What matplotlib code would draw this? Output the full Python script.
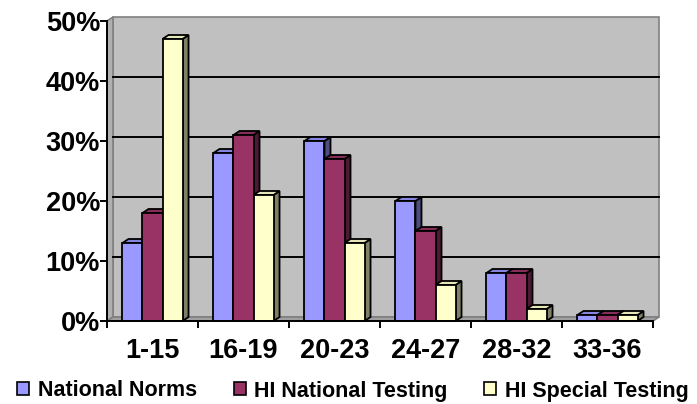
import numpy as np
import matplotlib.pyplot as plt
from matplotlib.patches import Rectangle, Polygon, Patch

plt.rcParams['font.family'] = ['Liberation Sans', 'DejaVu Sans']
plt.rcParams['font.weight'] = 'bold'

categories = ['1-15', '16-19', '20-23', '24-27', '28-32', '33-36']
series_names = ['National Norms', 'HI National Testing', 'HI Special Testing']
national_norms = [13, 28, 30, 20, 8, 1]
hi_national = [18, 31, 27, 15, 8, 1]
hi_special = [47, 21, 13, 6, 2, 1]
y_ticks = [0, 10, 20, 30, 40, 50]

front_colors = ['#9999FF', '#993366', '#FFFFCC']
top_colors = ['#8585E0', '#862D59', '#E6E6B8']
side_colors = ['#4D4D80', '#4D1A33', '#808066']

def draw_bar(ax, x0, w, h, dx, dy, i):
    kw = dict(edgecolor='black', linewidth=1.3, joinstyle='miter', clip_on=False, zorder=3)
    side = Polygon([(x0 + w, 0), (x0 + w + dx, dy), (x0 + w + dx, h + dy), (x0 + w, h)],
                   facecolor=side_colors[i], **kw)
    top = Polygon([(x0, h), (x0 + dx, h + dy), (x0 + w + dx, h + dy), (x0 + w, h)],
                  facecolor=top_colors[i], **kw)
    front = Rectangle((x0, 0), w, h, facecolor=front_colors[i], **kw)
    ax.add_patch(side)
    ax.add_patch(top)
    ax.add_patch(front)

fig = plt.figure(figsize=(6.97, 4.04), dpi=100)
ax = fig.add_axes([107 / 697, 83 / 404, 546 / 697, 300 / 404])
ax.set_xlim(0, 6)
ax.set_ylim(0, 50)

dx = 6 / 91.0
dy = 4 / 6.0
n = len(categories)

# back wall, side wall, floor
ax.add_patch(Polygon([(dx, dy), (n + dx, dy), (n + dx, 50 + dy), (dx, 50 + dy)],
                     facecolor='#C0C0C0', edgecolor='#808080', linewidth=1.2, zorder=0, clip_on=False))
ax.add_patch(Polygon([(0, 0), (dx, dy), (dx, 50 + dy), (0, 50)],
                     facecolor='#B0B0B0', edgecolor='#808080', linewidth=1.2, zorder=0, clip_on=False))
ax.add_patch(Polygon([(0, 0), (n, 0), (n + dx, dy), (dx, dy)],
                     facecolor='#A0A0A0', edgecolor='#808080', linewidth=1.2, zorder=0, clip_on=False))
for g in y_ticks[1:-1]:
    ax.plot([dx, n + dx], [g + dy, g + dy], color='black', linewidth=1.4, zorder=1, clip_on=False)

# bars
bw = 0.22
all_series = [national_norms, hi_national, hi_special]
for c in range(n):
    for i, vals in enumerate(all_series):
        x0 = c + 0.5 + (i - 1.5) * bw
        draw_bar(ax, x0, bw, vals[c], dx, dy, i)

# axes
for s in ['top', 'right']:
    ax.spines[s].set_visible(False)
for s in ['left', 'bottom']:
    ax.spines[s].set_linewidth(1.4)
    ax.spines[s].set_zorder(4)
ax.set_yticks(y_ticks)
ax.set_yticklabels([f'{v}%' for v in y_ticks])
ax.tick_params(axis='y', direction='out', length=5, width=1.4, pad=0, labelsize=19.5)
ax.set_xticks(np.arange(n) + 0.5)
ax.set_xticklabels(categories)
ax.set_xticks(np.arange(n + 1), minor=True)
ax.tick_params(axis='x', which='major', length=0, pad=12, labelsize=19.5)
ax.tick_params(axis='x', which='minor', direction='out', length=5, width=1.4)
ax.set_facecolor('none')

handles = [Patch(facecolor=front_colors[i], edgecolor='black', linewidth=1.2, label=series_names[i])
           for i in range(3)]
fig.legend(handles=handles, loc='center', bbox_to_anchor=(353 / 697, 1 - 391 / 404), ncol=3,
           frameon=False, prop={'size': 15.5, 'weight': 'bold'}, handlelength=0.56, handleheight=0.56,
           handletextpad=0.4, columnspacing=1.7, borderpad=0, borderaxespad=0)

fig.savefig('out.png', dpi=100)
